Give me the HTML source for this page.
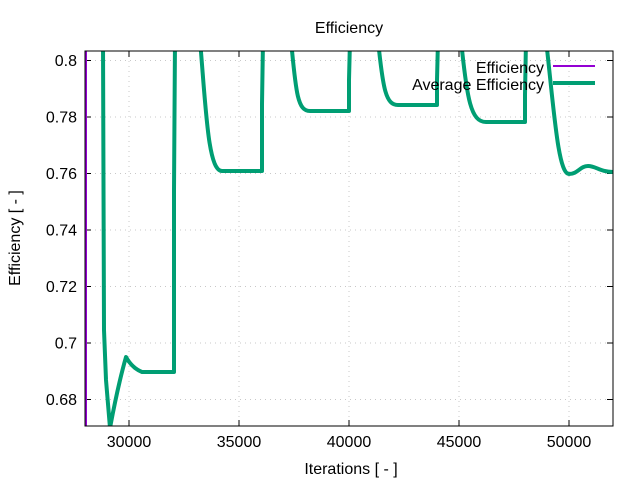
<!DOCTYPE html>
<html><head><style>body{margin:0;background:#fff}svg{display:block}text{font-family:"Liberation Sans",sans-serif}</style></head><body>
<svg width="640" height="480" viewBox="0 0 640 480">
<defs><clipPath id="c"><rect x="85" y="51" width="528" height="375"/></clipPath></defs>
<g stroke="#c8c8c8" stroke-dasharray="1,4" stroke-width="1">
<line x1="85" x2="613" y1="60.5" y2="60.5"/><line x1="85" x2="613" y1="117" y2="117"/><line x1="85" x2="613" y1="173.5" y2="173.5"/><line x1="85" x2="613" y1="230" y2="230"/><line x1="85" x2="613" y1="286.5" y2="286.5"/><line x1="85" x2="613" y1="343" y2="343"/><line x1="85" x2="613" y1="399.5" y2="399.5"/>
<line y1="51" y2="426" x1="129" x2="129"/><line y1="51" y2="426" x1="239" x2="239"/><line y1="51" y2="426" x1="349" x2="349"/><line y1="51" y2="426" x1="459" x2="459"/><line y1="51" y2="426" x1="569" x2="569"/>
</g>
<g stroke="#000" stroke-width="1">
<path d="M85,60.5h6M85,117h6M85,173.5h6M85,230h6M85,286.5h6M85,343h6M85,399.5h6M613,60.5h-6M613,117h-6M613,173.5h-6M613,230h-6M613,286.5h-6M613,343h-6M613,399.5h-6"/>
<path d="M129,426v-6M239,426v-6M349,426v-6M459,426v-6M569,426v-6M129,51v6M239,51v6M349,51v6M459,51v6M569,51v6"/>
</g>
<g clip-path="url(#c)" fill="none" stroke-linejoin="round">
<line x1="86" y1="51" x2="86" y2="426" stroke="#9400d3" stroke-width="2"/>
<path stroke="#009e73" stroke-width="4" d="M103,40 L104,330 L106,380 L110,428 Q118,385 126,357 Q132,368 142,372 L172,372 L174,372 L174,190 L175,40
M200,40 C206,110 208,171 222,171 L262,171 L262,104 L263,40
M291,40 C296,95 298,111 310,111 L349,111 L349,80 L350,40
M378,40 C383,90 386,105 398,105 L437,105 L437,80 L438,40
M461,40 C467,100 471,122 486,122 L525,122 L525,95 L526,40
M546,40 C554,110 558,174 569,174 C578,174 580,166 588,166 C596,166 600,172 613,172"/>
</g>
<rect x="85" y="51" width="528" height="375" fill="none" stroke="#000" stroke-width="1"/>
<text x="349" y="33" font-size="16" text-anchor="middle">Efficiency</text>
<g font-size="16" text-anchor="end">
<text x="77" y="66">0.8</text><text x="77" y="122.5">0.78</text><text x="77" y="179">0.76</text><text x="77" y="235.5">0.74</text><text x="77" y="292">0.72</text><text x="77" y="348.5">0.7</text><text x="77" y="405">0.68</text>
</g>
<g font-size="16" text-anchor="middle">
<text x="129" y="447">30000</text><text x="239" y="447">35000</text><text x="349" y="447">40000</text><text x="459" y="447">45000</text><text x="569" y="447">50000</text>
<text x="351" y="474">Iterations [ - ]</text>
</g>
<text transform="translate(20,238) rotate(-90)" font-size="16" text-anchor="middle">Efficiency [ - ]</text>
<text x="544" y="73" font-size="16" text-anchor="end">Efficiency</text>
<line x1="553" x2="595" y1="66" y2="66" stroke="#9400d3" stroke-width="2"/>
<text x="544" y="90" font-size="16" text-anchor="end">Average Efficiency</text>
<line x1="553" x2="595" y1="83" y2="83" stroke="#009e73" stroke-width="4"/>
</svg>
</body></html>
